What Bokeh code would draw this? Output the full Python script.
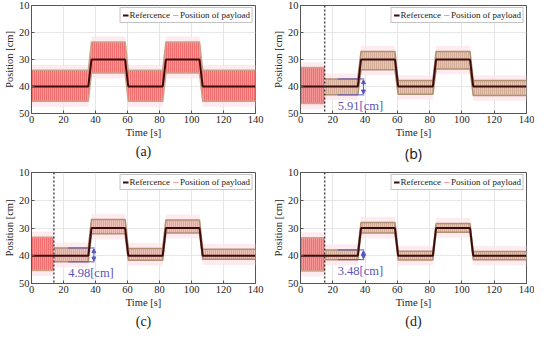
from bokeh.plotting import figure
from bokeh.layouts import column, row
from bokeh.models import (Range1d, FixedTicker, Legend, LegendItem, Span, Arrow,
                          NormalHead, Label, Title)
from bokeh.embed import file_html
from bokeh.resources import INLINE

# ---------------- data ----------------
x_ticks = [0, 20, 40, 60, 80, 100, 120, 140]
y_ticks = [10, 20, 30, 40, 50]

# reference trajectory (breakpoints)
ref_t = [0, 35.5, 37.5, 58.5, 60.5, 82, 84, 105, 107, 140]
ref_y = [40, 40, 30, 30, 40, 40, 30, 30, 40, 40]

# (a) no control: swing envelope (top / bottom) of the payload at ref_t
a_top = [34.0, 34.0, 23.5, 23.5, 34.0, 34.0, 23.5, 23.5, 34.0, 34.0]
a_bot = [45.5, 45.5, 35.0, 35.0, 45.5, 45.5, 35.0, 35.0, 45.5, 45.5]

# (b) control switched on at b_on
b_on = 15.0
b_pre_top, b_pre_bot = 33.0, 46.3
b_top = [37.2, 37.2, 27.0, 27.0, 37.8, 37.8, 27.0, 27.0, 37.8, 37.8]
b_bot = [43.1, 43.1, 33.8, 33.8, 42.9, 42.9, 33.5, 33.5, 43.3, 43.3]
b_amp = "5.91[cm]"

# (c)
c_on = 14.0
c_pre_top, c_pre_bot = 33.3, 45.3
c_top = [37.2, 37.2, 26.9, 26.9, 37.4, 37.4, 27.1, 27.1, 37.7, 37.7]
c_bot = [42.2, 42.2, 32.1, 32.1, 41.6, 41.6, 31.8, 31.8, 41.3, 41.3]
c_amp = "4.98[cm]"

# (d)
d_on = 15.0
d_pre_top, d_pre_bot = 33.5, 45.5
d_top = [37.9, 37.9, 28.0, 28.0, 38.4, 38.4, 28.4, 28.4, 38.5, 38.5]
d_bot = [41.4, 41.4, 31.8, 31.8, 41.5, 41.5, 31.5, 31.5, 41.4, 41.4]
d_amp = "3.48[cm]"

# ---------------- style ----------------
SERIF = "'Liberation Serif', 'Times New Roman', serif"
RED_FILL, RED_HATCH, RED_EDGE = "#f26f6f", "#fbbcbc", "#c9a48c"
BRN_FILL, BRN_HATCH, BRN_EDGE = "#eec2b8", "#b89676", "#b08f72"
HAZE = "#fde6ec"
ANN = "#5a55b8"
REF_COL = "#3a0c0c"


def band(p, x, top, bot, fill, hatch, edge):
    p.varea(x=x, y1=[v - 2.0 for v in top], y2=[v + 2.0 for v in bot],
            fill_color=HAZE, fill_alpha=0.8)
    p.varea(x=x, y1=top, y2=bot, fill_color=fill, hatch_pattern="|",
            hatch_color=hatch, hatch_scale=2, hatch_weight=1)
    p.line(x, top, line_color=edge, line_width=1.5)
    p.line(x, bot, line_color=edge, line_width=1.5)


def panel(caption, W, H, left, right, top_border, cap_font=SERIF,
          top=None, bot=None, on=None, pre=None, amp=None):
    p = figure(width=W, height=H, x_range=Range1d(0, 140), y_range=Range1d(50, 10),
               output_backend="svg", toolbar_location=None,
               min_border_left=left, min_border_right=right,
               min_border_top=top_border, min_border_bottom=0)
    p.background_fill_color = "white"
    p.outline_line_color = "#555555"
    p.outline_line_width = 1
    p.xaxis.ticker = FixedTicker(ticks=x_ticks)
    p.yaxis.ticker = FixedTicker(ticks=y_ticks)
    p.xgrid.ticker = FixedTicker(ticks=x_ticks)
    p.ygrid.ticker = FixedTicker(ticks=y_ticks)
    p.grid.grid_line_color = "#e6e6e6"
    p.grid.grid_line_width = 1
    p.xaxis.axis_label = "Time [s]"
    p.yaxis.axis_label = "Position [cm]"
    for ax in (p.xaxis[0], p.yaxis[0]):
        ax.major_label_text_font = SERIF
        ax.major_label_text_font_size = "10.5px"
        ax.major_label_text_color = "#262626"
        ax.axis_label_text_font = SERIF
        ax.axis_label_text_font_size = "10.5px"
        ax.axis_label_text_font_style = "normal"
        ax.axis_label_text_color = "#262626"
        ax.major_tick_in = 3
        ax.major_tick_out = 0
        ax.minor_tick_in = 0
        ax.minor_tick_out = 0
        ax.major_label_standoff = 2
        ax.axis_label_standoff = 1
        ax.axis_line_color = "#555555"
        ax.major_tick_line_color = "#555555"

    if on is None:
        band(p, ref_t, top, bot, RED_FILL, RED_HATCH, RED_EDGE)
    else:
        band(p, [0, on], [pre[0]] * 2, [pre[1]] * 2, RED_FILL, RED_HATCH, RED_EDGE)
        xs = [on] + ref_t[1:]
        band(p, xs, top, bot, BRN_FILL, BRN_HATCH, BRN_EDGE)
        p.add_layout(Span(location=on, dimension="height", line_color="#333333",
                          line_dash="2 2", line_width=1.3))
        # amplitude annotation
        p.segment(x0=[23, 23], y0=[top[0], bot[0]], x1=[39.5, 39.5], y1=[top[0], bot[0]],
                  line_color=ANN, line_width=1)
        mid = (top[0] + bot[0]) / 2
        for yend in (top[0] + 0.3, bot[0] - 0.3):
            p.add_layout(Arrow(x_start=39, y_start=mid, x_end=39, y_end=yend,
                               end=NormalHead(size=4, fill_color=ANN, line_color=ANN),
                               line_color=ANN, line_width=1))
        p.add_layout(Label(x=23, y=bot[0] + 1.4, text=amp, text_baseline="top",
                           text_font=SERIF, text_font_size="12.5px", text_color=ANN))

    # payload legend line (hidden beneath the reference line)
    r_pay = p.line(ref_t, ref_y, line_color="#f3a0a0", line_width=1.2)
    r_ref = p.line(ref_t, ref_y, line_color=REF_COL, line_width=2)

    leg = Legend(items=[LegendItem(label="Refercence", renderers=[r_ref]),
                        LegendItem(label="Position of payload", renderers=[r_pay])],
                 location="top_right", orientation="horizontal",
                 label_text_font=SERIF, label_text_font_size="9px",
                 label_text_color="#222222",
                 glyph_width=6, glyph_height=8, label_height=8, label_standoff=1,
                 spacing=3, padding=2, margin=2,
                 border_line_color="#8a8a8a", border_line_width=0.8,
                 background_fill_color="white", background_fill_alpha=1)
    p.add_layout(leg)

    p.add_layout(Title(text=caption, align="center", text_font=cap_font,
                       text_font_size="14px", text_font_style="normal",
                       text_color="#222222", standoff=2, offset=0), "below")
    return p


pa = panel("(a)", 267, 163, 24, 12, 5, top=a_top, bot=a_bot)
pb = panel("(b)", 267, 163, 33, 8, 5, cap_font="'Noto Sans', sans-serif",
           top=b_top, bot=b_bot, on=b_on, pre=(b_pre_top, b_pre_bot), amp=b_amp)
pc = panel("(c)", 267, 166, 24, 12, 9,
           top=c_top, bot=c_bot, on=c_on, pre=(c_pre_top, c_pre_bot), amp=c_amp)
pd = panel("(d)", 267, 166, 33, 8, 9,
           top=d_top, bot=d_bot, on=d_on, pre=(d_pre_top, d_pre_bot), amp=d_amp)

layout = column(row(pa, pb), row(pc, pd))

with open("out.html", "w") as f:
    f.write(file_html(layout, INLINE))
